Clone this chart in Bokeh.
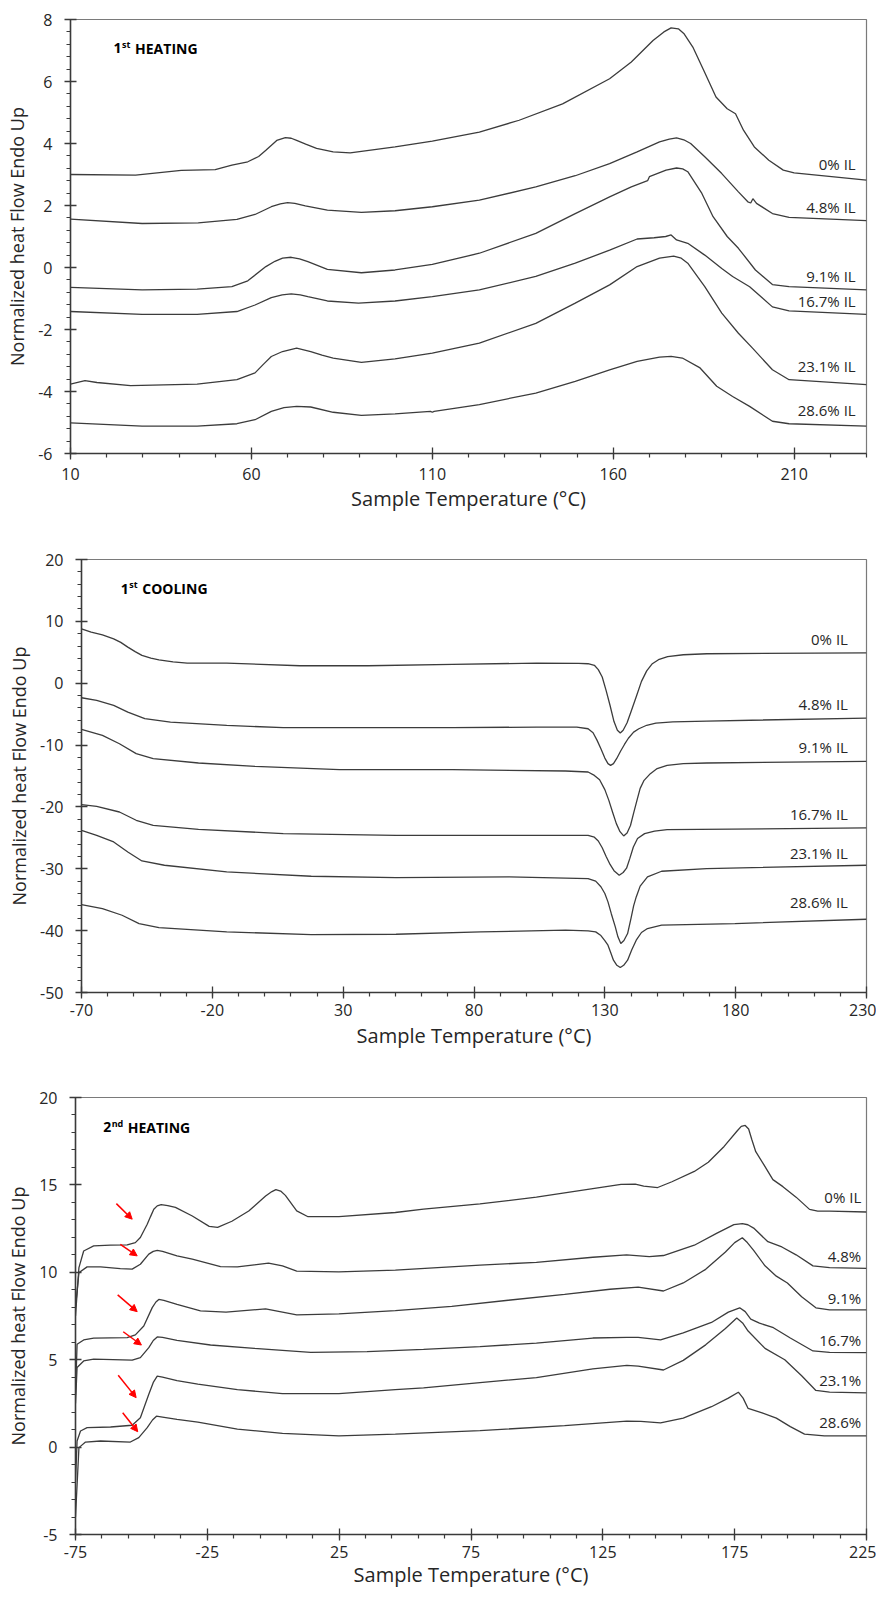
import numpy as np
from bokeh.plotting import figure
from bokeh.models import Range1d, FixedTicker, ColumnDataSource, Arrow, NormalHead
from bokeh.core.properties import value
from bokeh.embed import file_html
from bokeh.resources import INLINE

# ---------------- 1st heating ----------------
H1_LABELS = ["0% IL", "4.8% IL", "9.1% IL", "16.7% IL", "23.1% IL", "28.6% IL"]
H1_T0 = [10, 28, 40.6, 50, 54.6, 59, 62, 64, 67, 69.4, 71, 72.5, 75, 78, 82.6, 87.3, 99.7, 110, 123, 134, 146, 159, 165, 171, 174, 176, 178, 179.5, 182, 185, 188.4, 191.5, 193.8, 196, 199, 203, 207, 210, 230]
H1_V0 = [3.0, 2.98, 3.13, 3.16, 3.3, 3.41, 3.58, 3.78, 4.1, 4.19, 4.17, 4.1, 3.98, 3.84, 3.73, 3.70, 3.89, 4.08, 4.37, 4.75, 5.28, 6.09, 6.63, 7.32, 7.6, 7.73, 7.7, 7.55, 7.11, 6.36, 5.5, 5.12, 4.96, 4.43, 3.89, 3.46, 3.14, 3.05, 2.82]
H1_T1 = [10, 29.8, 45.3, 56, 61, 65.5, 68, 70, 72, 74.9, 81, 90.4, 99.7, 110, 123, 138.6, 149.5, 159, 166.6, 172.8, 175.5, 177.5, 179.5, 181.4, 185.3, 190, 194.6, 197.2, 198.0, 198.6, 199.6, 204, 208.6, 230]
H1_V1 = [1.56, 1.42, 1.44, 1.55, 1.71, 1.96, 2.05, 2.09, 2.07, 1.99, 1.85, 1.78, 1.83, 1.96, 2.17, 2.6, 2.96, 3.35, 3.73, 4.05, 4.14, 4.18, 4.12, 4.0, 3.57, 3.03, 2.44, 2.12, 2.08, 2.22, 2.07, 1.74, 1.62, 1.51]
H1_T2 = [10, 29.8, 45, 54.6, 59, 64, 66.5, 68.6, 71, 73.3, 75.6, 81, 90.4, 99.7, 110, 123, 138.6, 149.5, 159, 165, 169.5, 170, 174.6, 177.5, 179.2, 180.6, 184.5, 187.6, 191.5, 194.6, 199.3, 204, 208.6, 230]
H1_V2 = [-0.64, -0.72, -0.70, -0.62, -0.43, 0.03, 0.2, 0.30, 0.33, 0.28, 0.19, -0.06, -0.17, -0.08, 0.1, 0.46, 1.1, 1.74, 2.28, 2.6, 2.8, 2.93, 3.14, 3.21, 3.18, 3.09, 2.39, 1.64, 1.0, 0.62, -0.08, -0.55, -0.62, -0.72]
H1_T3 = [10, 29.8, 45, 56, 61, 65.5, 68.5, 71, 73.5, 75.6, 81, 89.6, 99.7, 110, 123, 138.6, 149.5, 159, 166.6, 171.3, 174.5, 176, 177.5, 180.6, 185.3, 190, 193, 197.7, 204, 208.6, 230]
H1_V3 = [-1.42, -1.51, -1.51, -1.42, -1.21, -0.97, -0.88, -0.85, -0.88, -0.94, -1.08, -1.15, -1.08, -0.94, -0.72, -0.29, 0.14, 0.56, 0.92, 0.96, 1.0, 1.05, 0.89, 0.78, 0.4, -0.03, -0.29, -0.62, -1.27, -1.4, -1.51]
H1_T4 = [10, 14, 17.3, 26.6, 45, 56, 61, 63.5, 65.5, 68.6, 72.5, 76.4, 79.5, 82.6, 90.4, 99.7, 110, 123, 138.6, 149.5, 159, 166.6, 172.8, 176.7, 178.8, 180.6, 185.3, 190, 194.6, 198.5, 204, 208.6, 230]
H1_V4 = [-3.76, -3.65, -3.71, -3.81, -3.76, -3.62, -3.4, -3.1, -2.87, -2.71, -2.6, -2.71, -2.83, -2.92, -3.06, -2.95, -2.76, -2.44, -1.8, -1.15, -0.56, 0.03, 0.3, 0.37, 0.3, 0.14, -0.62, -1.47, -2.12, -2.6, -3.3, -3.62, -3.78]
H1_T5 = [10, 29.8, 45, 56, 61, 65.5, 69, 72.5, 76.4, 82.6, 90.4, 99.7, 109.5, 110, 110.5, 123, 138.6, 149.5, 159, 166.6, 172.8, 176, 179.1, 184, 188.6, 193, 197.7, 204, 208.6, 230]
H1_V5 = [-5.01, -5.12, -5.12, -5.04, -4.91, -4.64, -4.52, -4.48, -4.5, -4.67, -4.77, -4.72, -4.64, -4.67, -4.64, -4.42, -4.05, -3.67, -3.3, -3.03, -2.89, -2.87, -2.92, -3.24, -3.83, -4.16, -4.48, -4.96, -5.04, -5.12]
H1_LABEL_Y = [3.35, 1.94, -0.27, -1.08, -3.17, -4.59]
H1_XTICKS = [10, 60, 110, 160, 210]
H1_XTICK_LABELS = ["10", "60", "110", "160", "210"]
H1_YTICKS = [-6, -4, -2, 0, 2, 4, 6, 8]
H1_YTICK_LABELS = ["-6", "-4", "-2", "0", "2", "4", "6", "8"]

# ---------------- 1st cooling ----------------
C1_LABELS = ["0% IL", "4.8% IL", "9.1% IL", "16.7% IL", "23.1% IL", "28.6% IL"]
C1_T0 = [-70, -66.3, -62, -57.7, -55, -52.3, -49.5, -46.9, -43.5, -40.4, -35, -29.6, -14.5, 13.5, 39.4, 71.8, 104, 120, 123.6, 126, 127.5, 129, 130.5, 132, 133.5, 134.8, 135.9, 137, 138.5, 140, 142, 144, 146, 148, 150.5, 154, 160, 169, 230]
C1_V0 = [8.8, 8.26, 7.8, 7.18, 6.6, 5.84, 5.1, 4.49, 4.05, 3.79, 3.45, 3.25, 3.25, 2.82, 2.82, 3.04, 3.25, 3.2, 3.15, 2.9, 2.2, 1.0, -1.2, -3.6, -6.2, -7.6, -8.05, -7.6, -6.4, -4.6, -2.2, 0.3, 2.0, 3.1, 3.8, 4.3, 4.6, 4.76, 4.92]
C1_T1 = [-70, -64.2, -57.7, -52.3, -45.8, -36, -14.5, 7.1, 39.4, 71.8, 104, 119.3, 123.6, 125.5, 127, 128.5, 130, 131.2, 132.2, 133.3, 134.5, 136, 137.5, 139, 141, 143, 146, 149.5, 156, 169, 230]
C1_V1 = [-2.35, -2.78, -3.58, -4.66, -5.74, -6.28, -6.82, -7.19, -7.19, -7.19, -7.09, -7.09, -7.36, -8.0, -9.2, -10.6, -12.1, -13.0, -13.28, -13.0, -12.2, -11.0, -9.9, -8.9, -7.9, -7.36, -6.8, -6.44, -6.25, -6.12, -5.63]
C1_T2 = [-70, -62, -55.5, -49.1, -42.6, -25.3, -3.7, 28.6, 71.8, 115, 123.6, 126, 128, 130, 131.5, 133, 134.4, 135.8, 137.2, 138.5, 139.8, 141, 142.3, 143.5, 145, 147.4, 150, 153.8, 160, 169, 230]
C1_V2 = [-7.46, -8.43, -9.78, -11.39, -12.2, -12.9, -13.44, -13.98, -13.98, -14.19, -14.35, -14.9, -15.6, -17.2, -18.9, -20.9, -22.7, -24.0, -24.69, -24.2, -23.0, -21.0, -18.9, -17.0, -15.7, -14.62, -13.8, -13.28, -13.0, -12.9, -12.63]
C1_T3 = [-70, -64.2, -55.5, -49.1, -42.6, -25.3, 7.1, 50.2, 93.4, 123.6, 126, 127.5, 129, 130.5, 132, 133.5, 135.5, 137, 138.3, 139.5, 140.9, 142.5, 145.2, 149, 153.8, 230]
C1_V3 = [-19.63, -19.9, -20.82, -22.16, -22.97, -23.62, -24.32, -24.59, -24.59, -24.59, -24.9, -25.5, -26.6, -28.0, -29.3, -30.3, -31.05, -30.6, -29.9, -28.4, -26.47, -25.1, -24.32, -23.9, -23.67, -23.4]
C1_T4 = [-70, -64.2, -57.7, -52.3, -46.9, -38.3, -14.5, 17.8, 50.2, 93.4, 123.6, 126.5, 128.5, 130, 131.2, 132.5, 134, 135, 136.1, 137.3, 138.7, 140, 141, 142, 143.5, 146.3, 151.7, 168.9, 230]
C1_V4 = [-23.78, -24.59, -25.66, -27.28, -28.73, -29.43, -30.51, -31.21, -31.42, -31.32, -31.59, -32.0, -32.9, -34.0, -35.35, -37.3, -39.39, -41.0, -42.08, -41.6, -40.47, -38.0, -36.0, -34.55, -32.8, -31.32, -30.4, -29.97, -29.43]
C1_T5 = [-70, -62, -54.5, -48, -40.4, -14.5, 17.8, 50.2, 82.6, 115, 123.6, 126.5, 128.5, 130, 131.2, 132.3, 133.3, 134.6, 135.9, 137.2, 138.7, 140.3, 142, 144, 146.3, 151.7, 179.7, 230]
C1_V5 = [-35.78, -36.43, -37.51, -38.86, -39.5, -40.2, -40.63, -40.58, -40.2, -39.93, -40.04, -40.2, -40.8, -41.6, -42.35, -43.6, -44.78, -45.6, -45.96, -45.6, -44.78, -43.1, -41.55, -40.3, -39.66, -39.12, -38.86, -38.16]
C1_LABEL_Y = [7.18, -3.42, -10.32, -21.09, -27.39, -35.35]
C1_XTICKS = [-70, -20, 30, 80, 130, 180, 230]
C1_XTICK_LABELS = ["-70", "-20", "30", "80", "130", "180", "230"]
C1_YTICKS = [-50, -40, -30, -20, -10, 0, 10, 20]
C1_YTICK_LABELS = ["-50", "-40", "-30", "-20", "-10", "0", "10", "20"]

# ---------------- 2nd heating ----------------
H2_LABELS = ["0% IL", "4.8%", "9.1%", "16.7%", "23.1%", "28.6%"]
H2_T0 = [-75, -73.7, -71.9, -68.1, -61.7, -55.4, -52.3, -50.4, -47.8, -46.5, -45.3, -44, -42.5, -40, -37.1, -30.7, -24.3, -21.1, -15.7, -9.3, -2.9, -0.5, 1, 2.8, 4.6, 8.9, 13.2, 24.9, 46.3, 57, 78.4, 99.8, 121.2, 131.9, 137.3, 140.5, 145.8, 151.2, 159.7, 165, 171, 176, 177.5, 179, 180.3, 181.5, 183, 186, 189.5, 193.3, 198.3, 203.4, 206.5, 211, 225]
H2_V0 = [7.5, 10.27, 11.22, 11.51, 11.55, 11.57, 11.7, 11.99, 12.75, 13.2, 13.61, 13.8, 13.87, 13.82, 13.71, 13.22, 12.63, 12.57, 12.92, 13.51, 14.36, 14.62, 14.73, 14.65, 14.4, 13.51, 13.18, 13.18, 13.42, 13.61, 13.91, 14.3, 14.79, 15.03, 15.05, 14.93, 14.85, 15.18, 15.77, 16.3, 17.2, 18.1, 18.35, 18.4, 18.2, 17.6, 16.9, 16.17, 15.3, 14.9, 14.3, 13.6, 13.5, 13.5, 13.45]
H2_T1 = [-75, -73.7, -70.6, -65.5, -58, -53.5, -50.4, -47.2, -45.5, -44, -42, -36.5, -30.7, -20, -13.6, -7.2, -1.8, 3.5, 8.9, 24.9, 46.3, 78.4, 99.8, 121.2, 134, 142.6, 148, 159.7, 168.3, 174.7, 177.9, 180, 182.2, 187.6, 192.9, 198.3, 204.7, 211, 225]
H2_V1 = [8.0, 9.98, 10.31, 10.31, 10.21, 10.18, 10.46, 11.04, 11.2, 11.25, 11.2, 10.94, 10.76, 10.33, 10.31, 10.43, 10.53, 10.37, 10.07, 10.02, 10.13, 10.41, 10.57, 10.86, 11.0, 10.9, 10.96, 11.55, 12.24, 12.73, 12.79, 12.72, 12.53, 11.75, 11.45, 11.0, 10.37, 10.27, 10.23]
H2_T2 = [-75, -74.4, -71.9, -68.1, -55.4, -52.3, -49.1, -45.9, -44.5, -43.4, -41.5, -36.5, -27.6, -17.9, -2.9, 8.9, 24.9, 46.3, 67.7, 89.1, 110.5, 127.7, 138.4, 148, 155.5, 164, 171.5, 175, 177.9, 179.8, 182.2, 186.5, 190.8, 195, 200.4, 205.8, 211, 225]
H2_V2 = [3.0, 5.88, 6.13, 6.23, 6.26, 6.42, 6.93, 7.98, 8.3, 8.45, 8.4, 8.17, 7.79, 7.72, 7.91, 7.56, 7.62, 7.81, 8.05, 8.4, 8.74, 9.03, 9.15, 8.93, 9.39, 10.17, 11.16, 11.7, 11.98, 11.7, 11.25, 10.37, 9.78, 9.39, 8.6, 7.97, 7.85, 7.85]
H2_T3 = [-75, -74.4, -71.9, -68.1, -53.5, -50.4, -47.2, -45.5, -44, -42, -36.5, -23.8, -7.2, 14.2, 35.6, 57, 78.4, 99.8, 121.2, 134.1, 138.4, 146.9, 155.5, 166.2, 172.6, 176.9, 179, 181.1, 184.4, 189.7, 196.1, 204.7, 211, 225]
H2_V3 = [2.5, 4.55, 4.93, 5.03, 4.97, 5.12, 5.69, 6.1, 6.3, 6.28, 6.11, 5.84, 5.65, 5.42, 5.46, 5.59, 5.75, 5.95, 6.24, 6.28, 6.28, 6.14, 6.54, 7.13, 7.72, 7.97, 7.75, 7.32, 7.09, 6.83, 6.24, 5.5, 5.42, 5.4]
H2_T4 = [-75, -74.4, -73.1, -70.6, -61.7, -53.5, -50.4, -47.2, -45.5, -44, -42, -36.5, -28.6, -13.6, 3.5, 24.9, 46.3, 57, 78.4, 99.8, 121.2, 134.1, 138.4, 148, 155.5, 164, 171.5, 175.8, 178, 180.1, 186.5, 194, 200.4, 205.8, 211, 225]
H2_V4 = [-2.0, 0.35, 0.92, 1.11, 1.15, 1.25, 1.68, 3.02, 3.7, 4.06, 4.0, 3.8, 3.6, 3.29, 3.06, 3.06, 3.29, 3.39, 3.69, 3.98, 4.47, 4.67, 4.63, 4.41, 4.96, 5.85, 6.79, 7.38, 7.1, 6.64, 5.65, 5.0, 4.08, 3.24, 3.14, 3.1]
H2_T5 = [-75, -73.7, -71.2, -65.5, -54.2, -51, -47.8, -45.8, -44.3, -42, -36.5, -28.6, -13.6, 3.5, 24.9, 46.3, 78.4, 110.5, 134.1, 139.4, 146.9, 155.5, 166.2, 172.6, 176.4, 178.2, 180.1, 185.4, 190.8, 196.1, 201.5, 209, 225]
H2_V5 = [-4.0, -0.03, 0.29, 0.35, 0.29, 0.54, 1.11, 1.55, 1.77, 1.72, 1.59, 1.43, 1.03, 0.78, 0.64, 0.74, 0.94, 1.23, 1.49, 1.47, 1.39, 1.66, 2.31, 2.8, 3.14, 2.8, 2.21, 1.96, 1.66, 1.17, 0.74, 0.64, 0.64]
H2_LABEL_Y = [14.28, 10.94, 8.55, 6.13, 3.82, 1.43]
H2_XTICKS = [-75, -25, 25, 75, 125, 175, 225]
H2_XTICK_LABELS = ["-75", "-25", "25", "75", "125", "175", "225"]
H2_YTICKS = [-5, 0, 5, 10, 15, 20]
H2_YTICK_LABELS = ["-5", "0", "5", "10", "15", "20"]
# red arrows (start -> end) marking the glass transition
ARROW_X0 = [-59.5, -58.0, -59.0, -56.9, -58.8, -57.1]
ARROW_Y0 = [13.93, 11.60, 8.71, 6.60, 4.11, 1.97]
ARROW_X1 = [-53.5, -51.6, -51.6, -50.0, -52.0, -51.4]
ARROW_Y1 = [13.04, 10.94, 7.75, 5.84, 2.83, 0.88]

AX = "#3a3a3a"
LINE = "#3c3c3c"
TXT = "#262626"


def make_panel(xr, yr, xt, xtl, xstep, yt, ytl, ystep, height, top, bottom, left,
               ts, vs, labels, label_x, label_y, title_xy, title_num, title_sup, title_word,
               word_offset, xlab_standoff, xtitle_standoff):
    p = figure(width=876, height=height, x_range=Range1d(*xr), y_range=Range1d(*yr),
               output_backend="svg", toolbar_location=None,
               min_border_left=left, min_border_right=10,
               min_border_top=top, min_border_bottom=bottom,
               background_fill_color="white", border_fill_color="white")
    p.xgrid.visible = False
    p.ygrid.visible = False
    p.outline_line_color = "#7a7a7a"
    p.outline_line_width = 1.2
    xminor = list(np.round(np.arange(xr[0], xr[1] + 1e-9, xstep), 3))
    yminor = list(np.round(np.arange(yr[0], yr[1] + 1e-9, ystep), 3))
    p.xaxis.ticker = FixedTicker(ticks=xt, minor_ticks=xminor)
    p.yaxis.ticker = FixedTicker(ticks=yt, minor_ticks=yminor)
    p.xaxis.major_label_overrides = dict(zip(xt, xtl))
    p.yaxis.major_label_overrides = dict(zip(yt, ytl))
    for ax in (p.xaxis[0], p.yaxis[0]):
        ax.axis_line_color = AX
        ax.axis_line_width = 1.5
        ax.major_tick_line_color = AX
        ax.major_tick_line_width = 1.3
        ax.minor_tick_line_color = AX
        ax.minor_tick_line_width = 1.2
        ax.major_tick_in = 6
        ax.major_tick_out = 6
        ax.minor_tick_in = 0
        ax.minor_tick_out = 4
        ax.major_label_text_font = "Open Sans"
        ax.major_label_text_font_size = "16px"
        ax.major_label_text_color = TXT
        ax.axis_label_text_font = "Open Sans"
        ax.axis_label_text_font_style = "normal"
        ax.axis_label_text_color = TXT
    p.xaxis.axis_label = "Sample Temperature (°C)"
    p.xaxis.axis_label_text_font_size = "20px"
    p.xaxis.major_label_standoff = xlab_standoff
    p.xaxis.axis_label_standoff = xtitle_standoff
    p.yaxis.axis_label = "Normalized heat Flow Endo Up"
    p.yaxis.axis_label_text_font_size = "18px"
    p.yaxis.major_label_standoff = 12
    p.yaxis.axis_label_standoff = 6

    for t, v in zip(ts, vs):
        p.line(t, v, line_color=LINE, line_width=1.3)

    src = ColumnDataSource(dict(x=[label_x] * len(labels), y=label_y, t=labels))
    p.text(x="x", y="y", text="t", source=src, text_align="right", text_baseline="middle",
           text_font=value("Open Sans"), text_font_size="15px", text_color=TXT)

    tx, ty = title_xy
    p.text(x=[tx], y=[ty], text=[title_num], text_baseline="middle",
           text_font=value("Open Sans"), text_font_style="bold", text_font_size="14px", text_color="black")
    p.text(x=[tx], y=[ty], text=[title_sup], x_offset=8.5, y_offset=-4, text_baseline="middle",
           text_font=value("Open Sans"), text_font_style="bold", text_font_size="9px", text_color="black")
    p.text(x=[tx], y=[ty], text=[title_word], x_offset=word_offset, text_baseline="middle",
           text_font=value("Open Sans"), text_font_style="bold", text_font_size="14px", text_color="black")
    return p


p1 = make_panel((10, 230), (-6, 8), H1_XTICKS, H1_XTICK_LABELS, 10, H1_YTICKS, H1_YTICK_LABELS, 0.4,
                528, 19, 75, 70,
                [H1_T0, H1_T1, H1_T2, H1_T3, H1_T4, H1_T5],
                [H1_V0, H1_V1, H1_V2, H1_V3, H1_V4, H1_V5],
                H1_LABELS, 227.0, H1_LABEL_Y, (21.9, 7.07), "1", "st", "HEATING", 21.5, 8, 2)

p2 = make_panel((-70, 230), (-50, 20), C1_XTICKS, C1_XTICK_LABELS, 10, C1_YTICKS, C1_YTICK_LABELS, 2,
                530, 31, 66, 81,
                [C1_T0, C1_T1, C1_T2, C1_T3, C1_T4, C1_T5],
                [C1_V0, C1_V1, C1_V2, C1_V3, C1_V4, C1_V5],
                C1_LABELS, 222.9, C1_LABEL_Y, (-55.0, 15.27), "1", "st", "COOLING", 21.5, 5, 3)

p3 = make_panel((-75, 225), (-5, 20), H2_XTICKS, H2_XTICK_LABELS, 10, H2_YTICKS, H2_YTICK_LABELS, 1,
                539, 39, 63, 75,
                [H2_T0, H2_T1, H2_T2, H2_T3, H2_T4, H2_T5],
                [H2_V0, H2_V1, H2_V2, H2_V3, H2_V4, H2_V5],
                H2_LABELS, 223.0, H2_LABEL_Y, (-64.5, 18.31), "2", "nd", "HEATING", 24.5, 5, 0)

arrow_src = ColumnDataSource(dict(x0=ARROW_X0, y0=ARROW_Y0, x1=ARROW_X1, y1=ARROW_Y1))
p3.add_layout(Arrow(end=NormalHead(size=7, fill_color="red", line_color="red"),
                    x_start="x0", y_start="y0", x_end="x1", y_end="y1",
                    line_color="red", line_width=1.5, source=arrow_src))

open("out.html", "w").write(file_html([p1, p2, p3], INLINE))
